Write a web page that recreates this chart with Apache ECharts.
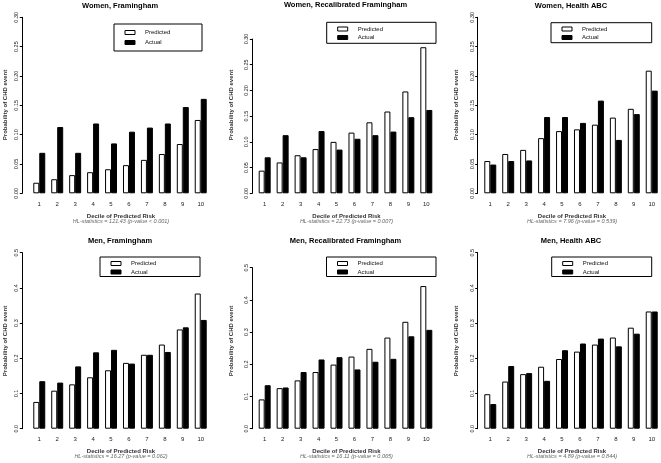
<!DOCTYPE html>
<html>
<head>
<meta charset="utf-8">
<script src="https://cdn.jsdelivr.net/npm/echarts@6/dist/echarts.min.js"></script>
<style>
  html, body { margin: 0; padding: 0; background: #fff; }
  #main { width: 661px; height: 463px; }
</style>
</head>
<body>
<div id="main"></div>
<script>
// categories
var deciles = ['1', '2', '3', '4', '5', '6', '7', '8', '9', '10'];

// values
var womenFramPred = [0.018, 0.024, 0.031, 0.036, 0.041, 0.048, 0.057, 0.067, 0.084, 0.125];
var womenFramAct = [0.069, 0.113, 0.069, 0.119, 0.085, 0.105, 0.112, 0.119, 0.147, 0.161];
var womenRecalPred = [0.044, 0.060, 0.074, 0.086, 0.100, 0.118, 0.138, 0.159, 0.198, 0.284];
var womenRecalAct = [0.070, 0.113, 0.070, 0.121, 0.085, 0.106, 0.113, 0.120, 0.148, 0.162];
var womenAbcPred = [0.055, 0.067, 0.074, 0.094, 0.106, 0.109, 0.117, 0.129, 0.144, 0.209];
var womenAbcAct = [0.049, 0.055, 0.056, 0.130, 0.130, 0.120, 0.158, 0.091, 0.135, 0.175];
var menFramPred = [0.076, 0.108, 0.126, 0.146, 0.166, 0.187, 0.210, 0.239, 0.282, 0.384];
var menFramAct = [0.135, 0.131, 0.177, 0.217, 0.224, 0.185, 0.210, 0.218, 0.288, 0.309];
var menRecalPred = [0.091, 0.126, 0.150, 0.176, 0.199, 0.224, 0.248, 0.283, 0.332, 0.443];
var menRecalAct = [0.135, 0.128, 0.176, 0.215, 0.222, 0.184, 0.208, 0.217, 0.287, 0.307];
var menAbcPred = [0.098, 0.134, 0.155, 0.176, 0.198, 0.219, 0.239, 0.259, 0.287, 0.333];
var menAbcAct = [0.070, 0.178, 0.158, 0.136, 0.223, 0.242, 0.256, 0.234, 0.270, 0.333];

var titles = ['Women, Framingham', 'Women, Recalibrated Framingham', 'Women, Health ABC',
              'Men, Framingham', 'Men, Recalibrated Framingham', 'Men, Health ABC'];
var hlTexts = ['HL-statistics = 121.43 (p-value < 0.001)', 'HL-statistics = 22.73 (p-value = 0.007)',
               'HL-statistics = 7.96 (p-value = 0.539)', 'HL-statistics = 16.27 (p-value = 0.062)',
               'HL-statistics = 16.11 (p-value = 0.065)', 'HL-statistics = 4.89 (p-value = 0.844)'];
var predSets = [womenFramPred, womenRecalPred, womenAbcPred, menFramPred, menRecalPred, menAbcPred];
var actSets = [womenFramAct, womenRecalAct, womenAbcAct, menFramAct, menRecalAct, menAbcAct];
var yMax = [0.30, 0.30, 0.30, 0.5, 0.5, 0.5];
var yStep = [0.05, 0.05, 0.05, 0.1, 0.1, 0.1];
var yDigits = [2, 2, 2, 1, 1, 1];

// layout of each panel (px)
var layout = [
  { left: 30.3, top: 17.3, width: 179.4, height: 176, offset: 8, titleY: 6, yNameX: 5, box: [114, 24, 88, 27], legTop: 29.5, legGap: 4 },
  { left: 255.7, top: 39, width: 179.6, height: 154.3, offset: 3.4, titleY: 5, yNameX: 231, box: [326.7, 22.3, 109.3, 21], legTop: 26, legGap: 2.5 },
  { left: 481.3, top: 17.3, width: 179.4, height: 176, offset: 3.6, titleY: 6, yNameX: 456.7, box: [551, 22.7, 100.7, 20], legTop: 26, legGap: 2.5 },
  { left: 30.3, top: 252.7, width: 179.4, height: 176, offset: 8, titleY: 240.5, yNameX: 5, box: [100, 257, 100, 19.5], legTop: 260.5, legGap: 2.5 },
  { left: 255.7, top: 267.7, width: 179.6, height: 161, offset: 3.4, titleY: 240.5, yNameX: 231, box: [326.5, 257, 109.5, 19.5], legTop: 260.5, legGap: 2.5 },
  { left: 481.3, top: 252.7, width: 179.4, height: 176, offset: 3.6, titleY: 240.5, yNameX: 456.7, box: [551.7, 257, 100, 19.5], legTop: 260.5, legGap: 2.5 }
];

var font = 'Liberation Sans, Arial, sans-serif';
var chart = echarts.init(document.getElementById('main'), null, { renderer: 'canvas' });

var grids = [], xAxes = [], yAxes = [], series = [], legends = [], graphics = [];

for (var i = 0; i < 6; i++) {
  var L = layout[i];
  var cx = L.left + L.width / 2;
  grids.push({ left: L.left, top: L.top, width: L.width, height: L.height, containLabel: false });
  xAxes.push({
    type: 'category', gridIndex: i, data: deciles,
    axisLine: { show: false }, axisTick: { show: false },
    axisLabel: { margin: 8, fontSize: 6, color: '#222', fontFamily: font }
  });
  (function (d) {
    yAxes.push({
      type: 'value', gridIndex: i, min: 0, max: yMax[i], interval: yStep[i], offset: L.offset,
      axisLine: { show: true, lineStyle: { color: '#000', width: 1 } },
      axisTick: { show: true, length: 2.5, lineStyle: { color: '#000' } },
      splitLine: { show: false },
      axisLabel: { rotate: 90, margin: 2.5, fontSize: 5.5, color: '#222', fontFamily: font,
                   formatter: function (v) { return v.toFixed(d); } }
    });
  })(yDigits[i]);
  series.push({
    name: 'Predicted', type: 'bar', xAxisIndex: i, yAxisIndex: i, data: predSets[i],
    barGap: '0%', barCategoryGap: '33.3%',
    itemStyle: { color: '#fff', borderColor: '#000', borderWidth: 1 }
  });
  series.push({
    name: 'Actual', type: 'bar', xAxisIndex: i, yAxisIndex: i, data: actSets[i],
    barGap: '0%', barCategoryGap: '33.3%',
    itemStyle: { color: '#000', borderColor: '#000', borderWidth: 1 }
  });
  legends.push({
    orient: 'vertical', left: L.box[0] + 10.5, top: L.legTop,
    itemWidth: 10, itemHeight: 4, itemGap: L.legGap, padding: 0,
    selectedMode: false,
    textStyle: { fontSize: 6, color: '#111', fontFamily: font, padding: [0, 0, 0, 5] },
    data: [
      { name: 'Predicted', icon: 'rect', itemStyle: { color: '#fff', borderColor: '#000', borderWidth: 1 } },
      { name: 'Actual', icon: 'rect', itemStyle: { color: '#000', borderColor: '#000', borderWidth: 1 } }
    ]
  });
  graphics.push({
    type: 'rect', z: 1,
    shape: { x: L.box[0], y: L.box[1], width: L.box[2], height: L.box[3] },
    style: { fill: 'none', stroke: '#000', lineWidth: 1 }
  });
  graphics.push({
    type: 'text', x: cx, y: L.titleY,
    style: { text: titles[i], font: 'bold 7.5px ' + font, fill: '#000', align: 'center', verticalAlign: 'middle' }
  });
  var xlY = i < 3 ? 216.5 : 451;
  graphics.push({
    type: 'text', x: cx + 1, y: xlY,
    style: { text: 'Decile of Predicted Risk', font: 'bold 6px ' + font, fill: '#333', align: 'center', verticalAlign: 'middle' }
  });
  graphics.push({
    type: 'text', x: cx + 1, y: xlY + 5,
    style: { text: hlTexts[i], font: 'italic 5.5px ' + font, fill: '#666', align: 'center', verticalAlign: 'middle' }
  });
  graphics.push({
    type: 'text', x: L.yNameX, y: i < 3 ? 105 : 341, rotation: Math.PI / 2,
    style: { text: 'Probability of CHD event', font: 'bold 6px ' + font, fill: '#333', align: 'center', verticalAlign: 'middle' }
  });
}

var option = {
  backgroundColor: '#fff',
  animation: false,
  grid: grids,
  xAxis: xAxes,
  yAxis: yAxes,
  legend: legends,
  series: series,
  graphic: graphics
};

option && chart.setOption(option);
</script>
</body>
</html>
